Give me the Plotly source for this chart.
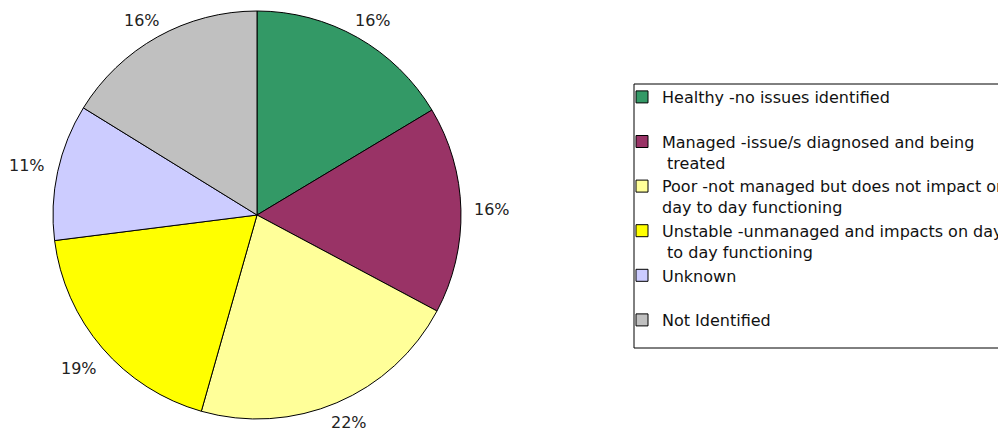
import math
import plotly.graph_objects as go

categories = [
    "Healthy -no issues identified<br> ",
    "Managed -issue/s diagnosed and being<br> treated",
    "Poor -not managed but does not impact on<br>day to day functioning",
    "Unstable -unmanaged and impacts on day<br> to day functioning",
    "Unknown<br> ",
    "Not Identified",
]
values = [16.4, 16.4, 21.6, 18.6, 10.8, 16.2]
colors = ["#339966", "#993366", "#FFFF99", "#FFFF00", "#CCCCFF", "#C0C0C0"]

W, H = 1006, 430
# figure pixel geometry (page has an 8px body margin)
cx, cy, r = 249, 207, 204
label_r = 235
top_edge, bottom_edge = 12, 16

fig = go.Figure(go.Pie(
    labels=categories,
    values=values,
    sort=False,
    direction="clockwise",
    rotation=0,
    marker=dict(colors=colors, line=dict(color="black", width=1)),
    textinfo="none",
    domain=dict(x=[(cx - r) / W, (cx + r) / W], y=[(H - cy - r) / H, (H - cy + r) / H]),
    hoverinfo="label+percent",
))

# percentage labels placed radially outside each slice, derived from the values
total = sum(values)
cum = 0.0
for v in values:
    mid = (cum + v / 2) / total
    cum += v
    th = 2 * math.pi * mid
    px = cx + label_r * math.sin(th)
    py = cy - label_r * math.cos(th)
    py = min(max(py, top_edge), H - bottom_edge)
    fig.add_annotation(
        x=px / W, y=1 - py / H, xref="paper", yref="paper",
        text=f"{round(100 * v / total)}%", showarrow=False,
        xanchor="center", yanchor="middle",
        font=dict(family="DejaVu Sans", size=16, color="#222222"),
    )

# legend frame (extends beyond the right edge, as in the original)
fig.add_shape(
    type="rect", xref="paper", yref="paper",
    x0=626 / W, x1=1.0, y0=1 - 340 / H, y1=1 - 76 / H,
    line=dict(color="black", width=1), fillcolor="rgba(0,0,0,0)",
)

fig.update_layout(
    width=W, height=H,
    margin=dict(l=0, r=0, t=0, b=0),
    paper_bgcolor="white",
    plot_bgcolor="white",
    font=dict(family="DejaVu Sans", size=16, color="#111111"),
    showlegend=True,
    legend=dict(
        x=625 / W, y=1 - 72 / H, xanchor="left", yanchor="top",
        borderwidth=0, bgcolor="rgba(0,0,0,0)",
        valign="top", itemwidth=30, indentation=-11,
        font=dict(family="DejaVu Sans", size=16, color="#111111"),
    ),
)

fig.write_html("out.html")
